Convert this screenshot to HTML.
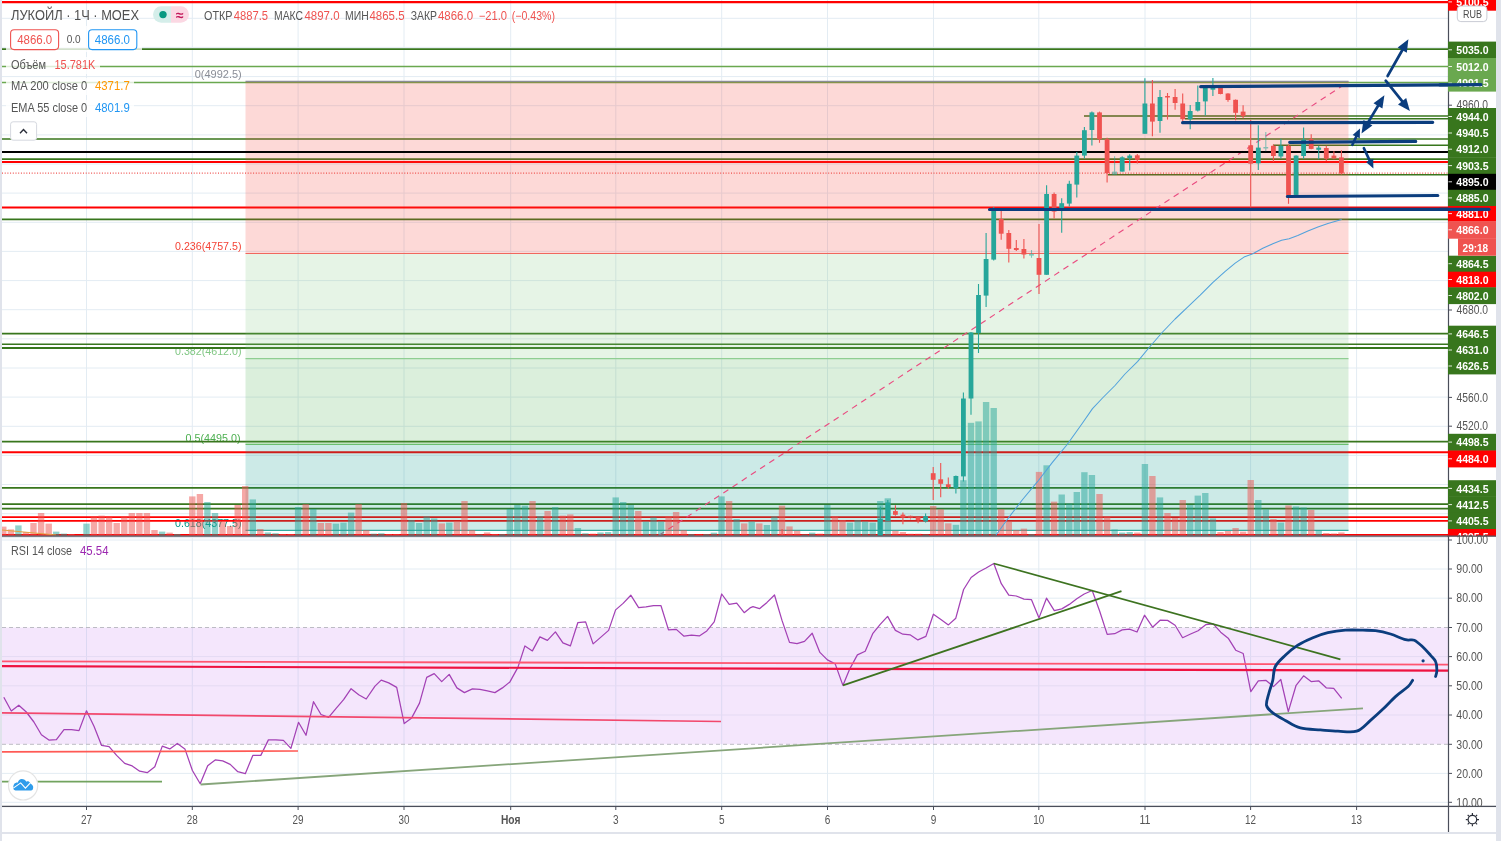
<!DOCTYPE html>
<html lang="ru"><head><meta charset="utf-8"><title>ЛУКОЙЛ · 1Ч · MOEX</title>
<style>html,body{margin:0;padding:0;background:#fff;overflow:hidden}body{width:1501px;height:841px;font-family:"Liberation Sans", Arial, sans-serif}</style>
</head><body>
<svg width="1501" height="841" viewBox="0 0 1501 841" font-family='"Liberation Sans", Arial, sans-serif' style="display:block">
<rect x="0.0" y="0.0" width="1501.0" height="841.0" fill="#ffffff" />
<line x1="86.5" y1="0.0" x2="86.5" y2="806.5" stroke="#e3ecf3" stroke-width="1" />
<line x1="192.3" y1="0.0" x2="192.3" y2="806.5" stroke="#e3ecf3" stroke-width="1" />
<line x1="298.1" y1="0.0" x2="298.1" y2="806.5" stroke="#e3ecf3" stroke-width="1" />
<line x1="404.0" y1="0.0" x2="404.0" y2="806.5" stroke="#e3ecf3" stroke-width="1" />
<line x1="510.7" y1="0.0" x2="510.7" y2="806.5" stroke="#e3ecf3" stroke-width="1" />
<line x1="615.8" y1="0.0" x2="615.8" y2="806.5" stroke="#e3ecf3" stroke-width="1" />
<line x1="721.7" y1="0.0" x2="721.7" y2="806.5" stroke="#e3ecf3" stroke-width="1" />
<line x1="827.5" y1="0.0" x2="827.5" y2="806.5" stroke="#e3ecf3" stroke-width="1" />
<line x1="933.5" y1="0.0" x2="933.5" y2="806.5" stroke="#e3ecf3" stroke-width="1" />
<line x1="1038.8" y1="0.0" x2="1038.8" y2="806.5" stroke="#e3ecf3" stroke-width="1" />
<line x1="1145.0" y1="0.0" x2="1145.0" y2="806.5" stroke="#e3ecf3" stroke-width="1" />
<line x1="1250.6" y1="0.0" x2="1250.6" y2="806.5" stroke="#e3ecf3" stroke-width="1" />
<line x1="1356.6" y1="0.0" x2="1356.6" y2="806.5" stroke="#e3ecf3" stroke-width="1" />
<line x1="2.0" y1="18.3" x2="1448.5" y2="18.3" stroke="#e3ecf3" stroke-width="1" />
<line x1="2.0" y1="47.4" x2="1448.5" y2="47.4" stroke="#e3ecf3" stroke-width="1" />
<line x1="2.0" y1="76.6" x2="1448.5" y2="76.6" stroke="#e3ecf3" stroke-width="1" />
<line x1="2.0" y1="105.7" x2="1448.5" y2="105.7" stroke="#e3ecf3" stroke-width="1" />
<line x1="2.0" y1="134.9" x2="1448.5" y2="134.9" stroke="#e3ecf3" stroke-width="1" />
<line x1="2.0" y1="164.0" x2="1448.5" y2="164.0" stroke="#e3ecf3" stroke-width="1" />
<line x1="2.0" y1="193.1" x2="1448.5" y2="193.1" stroke="#e3ecf3" stroke-width="1" />
<line x1="2.0" y1="222.3" x2="1448.5" y2="222.3" stroke="#e3ecf3" stroke-width="1" />
<line x1="2.0" y1="251.4" x2="1448.5" y2="251.4" stroke="#e3ecf3" stroke-width="1" />
<line x1="2.0" y1="280.6" x2="1448.5" y2="280.6" stroke="#e3ecf3" stroke-width="1" />
<line x1="2.0" y1="309.7" x2="1448.5" y2="309.7" stroke="#e3ecf3" stroke-width="1" />
<line x1="2.0" y1="338.8" x2="1448.5" y2="338.8" stroke="#e3ecf3" stroke-width="1" />
<line x1="2.0" y1="368.0" x2="1448.5" y2="368.0" stroke="#e3ecf3" stroke-width="1" />
<line x1="2.0" y1="397.1" x2="1448.5" y2="397.1" stroke="#e3ecf3" stroke-width="1" />
<line x1="2.0" y1="426.3" x2="1448.5" y2="426.3" stroke="#e3ecf3" stroke-width="1" />
<line x1="2.0" y1="455.4" x2="1448.5" y2="455.4" stroke="#e3ecf3" stroke-width="1" />
<line x1="2.0" y1="484.5" x2="1448.5" y2="484.5" stroke="#e3ecf3" stroke-width="1" />
<line x1="2.0" y1="513.7" x2="1448.5" y2="513.7" stroke="#e3ecf3" stroke-width="1" />
<line x1="2.0" y1="540.0" x2="1448.5" y2="540.0" stroke="#e3ecf3" stroke-width="1" />
<line x1="2.0" y1="569.0" x2="1448.5" y2="569.0" stroke="#e3ecf3" stroke-width="1" />
<line x1="2.0" y1="598.2" x2="1448.5" y2="598.2" stroke="#e3ecf3" stroke-width="1" />
<line x1="2.0" y1="656.6" x2="1448.5" y2="656.6" stroke="#e3ecf3" stroke-width="1" />
<line x1="2.0" y1="685.8" x2="1448.5" y2="685.8" stroke="#e3ecf3" stroke-width="1" />
<line x1="2.0" y1="715.0" x2="1448.5" y2="715.0" stroke="#e3ecf3" stroke-width="1" />
<line x1="2.0" y1="773.4" x2="1448.5" y2="773.4" stroke="#e3ecf3" stroke-width="1" />
<line x1="2.0" y1="802.3" x2="1448.5" y2="802.3" stroke="#e3ecf3" stroke-width="1" />
<rect x="2.0" y="627.5" width="1446.5" height="116.8" fill="#f4e6fc" />
<line x1="86.5" y1="627.5" x2="86.5" y2="744.3" stroke="#dcd8f2" stroke-width="1" />
<line x1="192.3" y1="627.5" x2="192.3" y2="744.3" stroke="#dcd8f2" stroke-width="1" />
<line x1="298.1" y1="627.5" x2="298.1" y2="744.3" stroke="#dcd8f2" stroke-width="1" />
<line x1="404.0" y1="627.5" x2="404.0" y2="744.3" stroke="#dcd8f2" stroke-width="1" />
<line x1="510.7" y1="627.5" x2="510.7" y2="744.3" stroke="#dcd8f2" stroke-width="1" />
<line x1="615.8" y1="627.5" x2="615.8" y2="744.3" stroke="#dcd8f2" stroke-width="1" />
<line x1="721.7" y1="627.5" x2="721.7" y2="744.3" stroke="#dcd8f2" stroke-width="1" />
<line x1="827.5" y1="627.5" x2="827.5" y2="744.3" stroke="#dcd8f2" stroke-width="1" />
<line x1="933.5" y1="627.5" x2="933.5" y2="744.3" stroke="#dcd8f2" stroke-width="1" />
<line x1="1038.8" y1="627.5" x2="1038.8" y2="744.3" stroke="#dcd8f2" stroke-width="1" />
<line x1="1145.0" y1="627.5" x2="1145.0" y2="744.3" stroke="#dcd8f2" stroke-width="1" />
<line x1="1250.6" y1="627.5" x2="1250.6" y2="744.3" stroke="#dcd8f2" stroke-width="1" />
<line x1="1356.6" y1="627.5" x2="1356.6" y2="744.3" stroke="#dcd8f2" stroke-width="1" />
<line x1="2.0" y1="656.6" x2="1448.5" y2="656.6" stroke="#e4daf3" stroke-width="1" />
<line x1="2.0" y1="685.8" x2="1448.5" y2="685.8" stroke="#e4daf3" stroke-width="1" />
<line x1="2.0" y1="715.0" x2="1448.5" y2="715.0" stroke="#e4daf3" stroke-width="1" />
<line x1="2.0" y1="627.5" x2="1448.5" y2="627.5" stroke="#bcbcc4" stroke-width="1" stroke-dasharray="4 3"/>
<line x1="2.0" y1="744.3" x2="1448.5" y2="744.3" stroke="#bcbcc4" stroke-width="1" stroke-dasharray="4 3"/>
<text x="241.7" y="77.7" font-size="11.8" fill="#8a8d96" font-weight="normal" text-anchor="end" textLength="47.0" lengthAdjust="spacingAndGlyphs" >0(4992.5)</text>
<text x="241.5" y="250.3" font-size="11.8" fill="#f44336" font-weight="normal" text-anchor="end" textLength="66.5" lengthAdjust="spacingAndGlyphs" >0.236(4757.5)</text>
<text x="241.5" y="354.7" font-size="11.8" fill="#81c784" font-weight="normal" text-anchor="end" textLength="66.5" lengthAdjust="spacingAndGlyphs" >0.382(4612.0)</text>
<text x="240.5" y="441.5" font-size="11.8" fill="#4caf50" font-weight="normal" text-anchor="end" textLength="55.0" lengthAdjust="spacingAndGlyphs" >0.5(4495.0)</text>
<text x="241.5" y="527.3" font-size="11.8" fill="#009688" font-weight="normal" text-anchor="end" textLength="66.5" lengthAdjust="spacingAndGlyphs" >0.618(4377.5)</text>
<line x1="2.0" y1="2.2" x2="1448.5" y2="2.2" stroke="#ff0000" stroke-width="2.2" />
<line x1="2.0" y1="49.2" x2="1448.5" y2="49.2" stroke="#38761d" stroke-width="1.7" />
<line x1="2.0" y1="66.5" x2="1448.5" y2="66.5" stroke="#6aa84f" stroke-width="1.5" />
<line x1="2.0" y1="82.6" x2="1448.5" y2="82.6" stroke="#6aa84f" stroke-width="1.5" />
<line x1="2.0" y1="139.0" x2="1448.5" y2="139.0" stroke="#38761d" stroke-width="1.6" />
<line x1="2.0" y1="159.1" x2="1448.5" y2="159.1" stroke="#38761d" stroke-width="1.6" />
<line x1="2.0" y1="161.9" x2="1448.5" y2="161.9" stroke="#ff0000" stroke-width="2" />
<line x1="2.0" y1="207.6" x2="1448.5" y2="207.6" stroke="#ff0000" stroke-width="2" />
<line x1="2.0" y1="219.3" x2="1448.5" y2="219.3" stroke="#38761d" stroke-width="1.7" />
<line x1="2.0" y1="333.7" x2="1448.5" y2="333.7" stroke="#38761d" stroke-width="1.7" />
<line x1="2.0" y1="344.3" x2="1448.5" y2="344.3" stroke="#38761d" stroke-width="1.5" />
<line x1="2.0" y1="348.0" x2="1448.5" y2="348.0" stroke="#38761d" stroke-width="1.9" />
<line x1="2.0" y1="441.6" x2="1448.5" y2="441.6" stroke="#38761d" stroke-width="1.7" />
<line x1="2.0" y1="452.3" x2="1448.5" y2="452.3" stroke="#ff0000" stroke-width="2" />
<line x1="2.0" y1="487.8" x2="1448.5" y2="487.8" stroke="#38761d" stroke-width="1.7" />
<line x1="2.0" y1="504.1" x2="1448.5" y2="504.1" stroke="#38761d" stroke-width="1.6" />
<line x1="2.0" y1="508.6" x2="1448.5" y2="508.6" stroke="#38761d" stroke-width="1.9" />
<line x1="2.0" y1="517.1" x2="1448.5" y2="517.1" stroke="#ff0000" stroke-width="1.8" />
<line x1="2.0" y1="520.9" x2="1448.5" y2="520.9" stroke="#ff0000" stroke-width="1.8" />
<line x1="2.0" y1="534.8" x2="1448.5" y2="534.8" stroke="#ff0000" stroke-width="1.7" />
<line x1="1084.0" y1="116.0" x2="1448.5" y2="116.0" stroke="#38761d" stroke-width="1.7" />
<line x1="1185.0" y1="118.7" x2="1448.5" y2="118.7" stroke="#38761d" stroke-width="1.5" />
<line x1="1273.0" y1="145.3" x2="1448.5" y2="145.3" stroke="#38761d" stroke-width="1.6" />
<line x1="1108.0" y1="174.7" x2="1448.5" y2="174.7" stroke="#38761d" stroke-width="1.6" />
<line x1="2.0" y1="173.1" x2="1448.5" y2="173.1" stroke="#ef5350" stroke-width="1.3" stroke-dasharray="1 1.7"/>
<rect x="245.5" y="81.6" width="1103.0" height="171.9" fill="#f44336" fill-opacity="0.2"/>
<rect x="245.5" y="253.5" width="1103.0" height="105.1" fill="#81c784" fill-opacity="0.2"/>
<rect x="245.5" y="358.6" width="1103.0" height="85.8" fill="#4caf50" fill-opacity="0.2"/>
<rect x="245.5" y="444.4" width="1103.0" height="86.0" fill="#009688" fill-opacity="0.2"/>
<line x1="245.5" y1="81.3" x2="1348.5" y2="81.3" stroke="#8a8d96" stroke-width="1.2" />
<line x1="245.5" y1="253.5" x2="1348.5" y2="253.5" stroke="#f0675e" stroke-width="1.2" />
<line x1="245.5" y1="358.6" x2="1348.5" y2="358.6" stroke="#8fce92" stroke-width="1.2" />
<line x1="245.5" y1="444.4" x2="1348.5" y2="444.4" stroke="#6abf6e" stroke-width="1.2" />
<line x1="245.5" y1="530.4" x2="1348.5" y2="530.4" stroke="#33aba0" stroke-width="1.2" />
<line x1="659.0" y1="535.3" x2="1348.5" y2="81.8" stroke="#ea4c80" stroke-width="1.15" stroke-dasharray="6 5"/>
<line x1="2.0" y1="152.0" x2="1448.5" y2="152.0" stroke="#000000" stroke-width="2" />
<g opacity="0.5">
<rect x="0.1" y="526.6" width="6.4" height="9.6" fill="#ef5350" />
<rect x="7.7" y="529.4" width="6.4" height="6.8" fill="#ef5350" />
<rect x="15.2" y="525.4" width="6.4" height="10.8" fill="#26a69a" />
<rect x="22.8" y="532.0" width="6.4" height="4.2" fill="#ef5350" />
<rect x="30.3" y="523.0" width="6.4" height="13.2" fill="#ef5350" />
<rect x="37.9" y="513.0" width="6.4" height="23.2" fill="#ef5350" />
<rect x="45.5" y="523.6" width="6.4" height="12.6" fill="#ef5350" />
<rect x="53.0" y="531.6" width="6.4" height="4.6" fill="#26a69a" />
<rect x="60.6" y="533.6" width="6.4" height="2.6" fill="#26a69a" />
<rect x="68.1" y="534.0" width="6.4" height="2.2" fill="#ef5350" />
<rect x="83.3" y="523.6" width="6.4" height="12.6" fill="#26a69a" />
<rect x="90.8" y="516.4" width="6.4" height="19.8" fill="#ef5350" />
<rect x="98.4" y="515.6" width="6.4" height="20.6" fill="#ef5350" />
<rect x="105.9" y="517.0" width="6.4" height="19.2" fill="#ef5350" />
<rect x="113.5" y="523.0" width="6.4" height="13.2" fill="#ef5350" />
<rect x="121.1" y="516.4" width="6.4" height="19.8" fill="#ef5350" />
<rect x="128.6" y="513.0" width="6.4" height="23.2" fill="#ef5350" />
<rect x="136.2" y="513.0" width="6.4" height="23.2" fill="#ef5350" />
<rect x="143.7" y="513.0" width="6.4" height="23.2" fill="#ef5350" />
<rect x="151.3" y="530.0" width="6.4" height="6.2" fill="#ef5350" />
<rect x="158.9" y="531.6" width="6.4" height="4.6" fill="#26a69a" />
<rect x="166.4" y="532.6" width="6.4" height="3.6" fill="#ef5350" />
<rect x="174.0" y="534.0" width="6.4" height="2.2" fill="#26a69a" />
<rect x="189.1" y="496.4" width="6.4" height="39.8" fill="#ef5350" />
<rect x="196.7" y="494.0" width="6.4" height="42.2" fill="#ef5350" />
<rect x="204.2" y="502.0" width="6.4" height="34.2" fill="#26a69a" />
<rect x="211.8" y="513.0" width="6.4" height="23.2" fill="#26a69a" />
<rect x="219.3" y="521.0" width="6.4" height="15.2" fill="#ef5350" />
<rect x="226.9" y="526.0" width="6.4" height="10.2" fill="#ef5350" />
<rect x="234.5" y="505.0" width="6.4" height="31.2" fill="#ef5350" />
<rect x="242.0" y="486.0" width="6.4" height="50.2" fill="#ef5350" />
<rect x="249.6" y="499.4" width="6.4" height="36.8" fill="#26a69a" />
<rect x="257.1" y="529.0" width="6.4" height="7.2" fill="#ef5350" />
<rect x="264.7" y="532.4" width="6.4" height="3.8" fill="#26a69a" />
<rect x="272.3" y="533.2" width="6.4" height="3.0" fill="#26a69a" />
<rect x="279.8" y="534.0" width="6.4" height="2.2" fill="#ef5350" />
<rect x="287.4" y="534.0" width="6.4" height="2.2" fill="#ef5350" />
<rect x="294.9" y="507.0" width="6.4" height="29.2" fill="#26a69a" />
<rect x="302.5" y="504.0" width="6.4" height="32.2" fill="#ef5350" />
<rect x="310.1" y="509.0" width="6.4" height="27.2" fill="#26a69a" />
<rect x="317.6" y="523.0" width="6.4" height="13.2" fill="#ef5350" />
<rect x="325.2" y="523.0" width="6.4" height="13.2" fill="#ef5350" />
<rect x="332.7" y="523.6" width="6.4" height="12.6" fill="#26a69a" />
<rect x="340.3" y="522.6" width="6.4" height="13.6" fill="#26a69a" />
<rect x="347.9" y="512.6" width="6.4" height="23.6" fill="#26a69a" />
<rect x="355.4" y="504.0" width="6.4" height="32.2" fill="#ef5350" />
<rect x="363.0" y="530.0" width="6.4" height="6.2" fill="#ef5350" />
<rect x="370.5" y="533.6" width="6.4" height="2.6" fill="#26a69a" />
<rect x="378.1" y="533.2" width="6.4" height="3.0" fill="#26a69a" />
<rect x="385.7" y="534.0" width="6.4" height="2.2" fill="#ef5350" />
<rect x="393.2" y="534.0" width="6.4" height="2.2" fill="#ef5350" />
<rect x="400.8" y="503.0" width="6.4" height="33.2" fill="#ef5350" />
<rect x="408.3" y="520.0" width="6.4" height="16.2" fill="#26a69a" />
<rect x="415.9" y="523.0" width="6.4" height="13.2" fill="#26a69a" />
<rect x="423.5" y="516.4" width="6.4" height="19.8" fill="#26a69a" />
<rect x="431.0" y="518.4" width="6.4" height="17.8" fill="#26a69a" />
<rect x="438.6" y="523.4" width="6.4" height="12.8" fill="#ef5350" />
<rect x="446.1" y="522.6" width="6.4" height="13.6" fill="#26a69a" />
<rect x="453.7" y="521.0" width="6.4" height="15.2" fill="#ef5350" />
<rect x="461.3" y="501.0" width="6.4" height="35.2" fill="#ef5350" />
<rect x="468.8" y="530.0" width="6.4" height="6.2" fill="#ef5350" />
<rect x="476.4" y="534.4" width="6.4" height="1.8" fill="#26a69a" />
<rect x="483.9" y="532.4" width="6.4" height="3.8" fill="#ef5350" />
<rect x="491.5" y="534.0" width="6.4" height="2.2" fill="#ef5350" />
<rect x="499.1" y="534.0" width="6.4" height="2.2" fill="#26a69a" />
<rect x="506.6" y="509.0" width="6.4" height="27.2" fill="#26a69a" />
<rect x="514.2" y="505.0" width="6.4" height="31.2" fill="#26a69a" />
<rect x="521.7" y="505.6" width="6.4" height="30.6" fill="#26a69a" />
<rect x="529.3" y="501.0" width="6.4" height="35.2" fill="#ef5350" />
<rect x="536.9" y="516.0" width="6.4" height="20.2" fill="#26a69a" />
<rect x="544.4" y="511.0" width="6.4" height="25.2" fill="#ef5350" />
<rect x="552.0" y="507.0" width="6.4" height="29.2" fill="#26a69a" />
<rect x="559.5" y="515.6" width="6.4" height="20.6" fill="#ef5350" />
<rect x="567.1" y="514.4" width="6.4" height="21.8" fill="#ef5350" />
<rect x="574.7" y="528.0" width="6.4" height="8.2" fill="#26a69a" />
<rect x="582.2" y="533.2" width="6.4" height="3.0" fill="#26a69a" />
<rect x="589.8" y="533.6" width="6.4" height="2.6" fill="#ef5350" />
<rect x="597.3" y="532.4" width="6.4" height="3.8" fill="#26a69a" />
<rect x="604.9" y="532.0" width="6.4" height="4.2" fill="#26a69a" />
<rect x="612.5" y="497.4" width="6.4" height="38.8" fill="#26a69a" />
<rect x="620.0" y="502.0" width="6.4" height="34.2" fill="#26a69a" />
<rect x="627.6" y="505.0" width="6.4" height="31.2" fill="#26a69a" />
<rect x="635.1" y="511.0" width="6.4" height="25.2" fill="#ef5350" />
<rect x="642.7" y="521.6" width="6.4" height="14.6" fill="#26a69a" />
<rect x="650.3" y="517.4" width="6.4" height="18.8" fill="#26a69a" />
<rect x="657.8" y="521.4" width="6.4" height="14.8" fill="#26a69a" />
<rect x="665.4" y="516.4" width="6.4" height="19.8" fill="#ef5350" />
<rect x="672.9" y="512.0" width="6.4" height="24.2" fill="#ef5350" />
<rect x="680.5" y="530.0" width="6.4" height="6.2" fill="#ef5350" />
<rect x="688.1" y="534.0" width="6.4" height="2.2" fill="#26a69a" />
<rect x="695.6" y="534.4" width="6.4" height="1.8" fill="#ef5350" />
<rect x="703.2" y="534.0" width="6.4" height="2.2" fill="#26a69a" />
<rect x="710.7" y="532.6" width="6.4" height="3.6" fill="#26a69a" />
<rect x="718.3" y="496.4" width="6.4" height="39.8" fill="#26a69a" />
<rect x="725.9" y="501.0" width="6.4" height="35.2" fill="#ef5350" />
<rect x="733.4" y="519.0" width="6.4" height="17.2" fill="#26a69a" />
<rect x="741.0" y="523.4" width="6.4" height="12.8" fill="#ef5350" />
<rect x="748.5" y="521.4" width="6.4" height="14.8" fill="#26a69a" />
<rect x="756.1" y="523.4" width="6.4" height="12.8" fill="#ef5350" />
<rect x="763.7" y="525.0" width="6.4" height="11.2" fill="#26a69a" />
<rect x="771.2" y="516.4" width="6.4" height="19.8" fill="#26a69a" />
<rect x="778.8" y="505.6" width="6.4" height="30.6" fill="#ef5350" />
<rect x="786.3" y="526.4" width="6.4" height="9.8" fill="#ef5350" />
<rect x="793.9" y="530.6" width="6.4" height="5.6" fill="#ef5350" />
<rect x="801.5" y="534.4" width="6.4" height="1.8" fill="#26a69a" />
<rect x="809.0" y="532.6" width="6.4" height="3.6" fill="#26a69a" />
<rect x="816.6" y="533.6" width="6.4" height="2.6" fill="#ef5350" />
<rect x="824.1" y="505.0" width="6.4" height="31.2" fill="#26a69a" />
<rect x="831.7" y="516.4" width="6.4" height="19.8" fill="#ef5350" />
<rect x="839.3" y="520.0" width="6.4" height="16.2" fill="#ef5350" />
<rect x="846.8" y="522.6" width="6.4" height="13.6" fill="#26a69a" />
<rect x="854.4" y="520.0" width="6.4" height="16.2" fill="#26a69a" />
<rect x="861.9" y="521.6" width="6.4" height="14.6" fill="#26a69a" />
<rect x="869.5" y="522.6" width="6.4" height="13.6" fill="#26a69a" />
<rect x="877.1" y="501.0" width="6.4" height="35.2" fill="#26a69a" />
<rect x="884.6" y="498.3" width="6.4" height="37.9" fill="#26a69a" />
<rect x="892.2" y="530.7" width="6.4" height="5.5" fill="#ef5350" />
<rect x="899.7" y="532.0" width="6.4" height="4.2" fill="#ef5350" />
<rect x="907.3" y="533.7" width="6.4" height="2.5" fill="#ef5350" />
<rect x="914.9" y="533.7" width="6.4" height="2.5" fill="#ef5350" />
<rect x="922.4" y="534.3" width="6.4" height="1.9" fill="#26a69a" />
<rect x="930.0" y="506.0" width="6.4" height="30.2" fill="#ef5350" />
<rect x="937.5" y="509.3" width="6.4" height="26.9" fill="#ef5350" />
<rect x="945.1" y="523.3" width="6.4" height="12.9" fill="#ef5350" />
<rect x="952.7" y="524.8" width="6.4" height="11.4" fill="#26a69a" />
<rect x="960.2" y="480.2" width="6.4" height="56.0" fill="#26a69a" />
<rect x="967.8" y="422.8" width="6.4" height="113.4" fill="#26a69a" />
<rect x="975.3" y="421.4" width="6.4" height="114.8" fill="#26a69a" />
<rect x="982.9" y="402.0" width="6.4" height="134.2" fill="#26a69a" />
<rect x="990.5" y="408.0" width="6.4" height="128.2" fill="#26a69a" />
<rect x="998.0" y="509.3" width="6.4" height="26.9" fill="#ef5350" />
<rect x="1005.6" y="521.8" width="6.4" height="14.4" fill="#ef5350" />
<rect x="1013.1" y="530.0" width="6.4" height="6.2" fill="#ef5350" />
<rect x="1020.7" y="528.6" width="6.4" height="7.6" fill="#ef5350" />
<rect x="1028.3" y="534.0" width="6.4" height="2.2" fill="#26a69a" />
<rect x="1035.8" y="471.9" width="6.4" height="64.3" fill="#ef5350" />
<rect x="1043.4" y="465.3" width="6.4" height="70.9" fill="#26a69a" />
<rect x="1050.9" y="501.6" width="6.4" height="34.6" fill="#ef5350" />
<rect x="1058.5" y="494.5" width="6.4" height="41.7" fill="#26a69a" />
<rect x="1066.1" y="503.4" width="6.4" height="32.8" fill="#26a69a" />
<rect x="1073.6" y="492.0" width="6.4" height="44.2" fill="#26a69a" />
<rect x="1081.2" y="472.2" width="6.4" height="64.0" fill="#26a69a" />
<rect x="1088.7" y="475.0" width="6.4" height="61.2" fill="#26a69a" />
<rect x="1096.3" y="494.0" width="6.4" height="42.2" fill="#ef5350" />
<rect x="1103.9" y="516.6" width="6.4" height="19.6" fill="#ef5350" />
<rect x="1111.4" y="529.4" width="6.4" height="6.8" fill="#26a69a" />
<rect x="1119.0" y="532.5" width="6.4" height="3.7" fill="#26a69a" />
<rect x="1126.5" y="532.0" width="6.4" height="4.2" fill="#26a69a" />
<rect x="1134.1" y="532.5" width="6.4" height="3.7" fill="#ef5350" />
<rect x="1141.7" y="464.0" width="6.4" height="72.2" fill="#26a69a" />
<rect x="1149.2" y="476.0" width="6.4" height="60.2" fill="#ef5350" />
<rect x="1156.8" y="497.4" width="6.4" height="38.8" fill="#26a69a" />
<rect x="1164.3" y="513.0" width="6.4" height="23.2" fill="#ef5350" />
<rect x="1171.9" y="518.0" width="6.4" height="18.2" fill="#ef5350" />
<rect x="1179.5" y="500.0" width="6.4" height="36.2" fill="#ef5350" />
<rect x="1187.0" y="505.0" width="6.4" height="31.2" fill="#26a69a" />
<rect x="1194.6" y="495.6" width="6.4" height="40.6" fill="#26a69a" />
<rect x="1202.1" y="493.0" width="6.4" height="43.2" fill="#26a69a" />
<rect x="1209.7" y="518.4" width="6.4" height="17.8" fill="#26a69a" />
<rect x="1217.3" y="532.0" width="6.4" height="4.2" fill="#ef5350" />
<rect x="1224.8" y="531.0" width="6.4" height="5.2" fill="#ef5350" />
<rect x="1232.4" y="528.0" width="6.4" height="8.2" fill="#ef5350" />
<rect x="1239.9" y="531.6" width="6.4" height="4.6" fill="#ef5350" />
<rect x="1247.5" y="480.0" width="6.4" height="56.2" fill="#ef5350" />
<rect x="1255.1" y="500.0" width="6.4" height="36.2" fill="#26a69a" />
<rect x="1262.6" y="509.4" width="6.4" height="26.8" fill="#26a69a" />
<rect x="1270.2" y="519.0" width="6.4" height="17.2" fill="#ef5350" />
<rect x="1277.7" y="522.6" width="6.4" height="13.6" fill="#26a69a" />
<rect x="1285.3" y="505.4" width="6.4" height="30.8" fill="#ef5350" />
<rect x="1292.9" y="506.4" width="6.4" height="29.8" fill="#26a69a" />
<rect x="1300.4" y="507.4" width="6.4" height="28.8" fill="#26a69a" />
<rect x="1308.0" y="510.0" width="6.4" height="26.2" fill="#ef5350" />
<rect x="1315.5" y="530.0" width="6.4" height="6.2" fill="#26a69a" />
<rect x="1323.1" y="533.0" width="6.4" height="3.2" fill="#ef5350" />
<rect x="1330.7" y="533.4" width="6.4" height="2.8" fill="#ef5350" />
<rect x="1338.2" y="532.4" width="6.4" height="3.8" fill="#ef5350" />
</g>
<g>
<line x1="880.3" y1="506.6" x2="880.3" y2="535.6" stroke="#26a69a" stroke-width="1.1" />
<rect x="877.9" y="518.9" width="4.8" height="16.7" fill="#26a69a" />
</g>
<g>
<line x1="887.8" y1="500.0" x2="887.8" y2="520.7" stroke="#26a69a" stroke-width="1.1" />
<rect x="885.4" y="502.5" width="4.8" height="18.2" fill="#26a69a" />
</g>
<g>
<line x1="895.4" y1="505.2" x2="895.4" y2="515.7" stroke="#ef5350" stroke-width="1.1" />
<rect x="893.0" y="511.1" width="4.8" height="3.7" fill="#ef5350" />
</g>
<g>
<line x1="902.9" y1="512.6" x2="902.9" y2="524.2" stroke="#ef5350" stroke-width="1.1" />
<rect x="900.5" y="514.6" width="4.8" height="2.9" fill="#ef5350" />
</g>
<g opacity="0.55">
<line x1="910.5" y1="515.2" x2="910.5" y2="519.7" stroke="#ef5350" stroke-width="1.1" />
<rect x="908.1" y="515.7" width="4.8" height="2.2" fill="#ef5350" />
</g>
<g>
<line x1="918.1" y1="517.0" x2="918.1" y2="523.2" stroke="#ef5350" stroke-width="1.1" />
<rect x="915.7" y="517.2" width="4.8" height="3.0" fill="#ef5350" />
</g>
<g>
<line x1="925.6" y1="513.4" x2="925.6" y2="522.5" stroke="#26a69a" stroke-width="1.1" />
<rect x="923.2" y="516.2" width="4.8" height="5.3" fill="#26a69a" />
</g>
<g>
<line x1="933.2" y1="466.9" x2="933.2" y2="500.0" stroke="#ef5350" stroke-width="1.1" />
<rect x="930.8" y="473.2" width="4.8" height="6.6" fill="#ef5350" />
</g>
<g>
<line x1="940.7" y1="463.1" x2="940.7" y2="497.3" stroke="#ef5350" stroke-width="1.1" />
<rect x="938.3" y="479.3" width="4.8" height="4.5" fill="#ef5350" />
</g>
<g>
<line x1="948.3" y1="477.4" x2="948.3" y2="488.9" stroke="#ef5350" stroke-width="1.1" />
<rect x="945.9" y="484.3" width="4.8" height="2.8" fill="#ef5350" />
</g>
<g>
<line x1="955.9" y1="475.5" x2="955.9" y2="493.6" stroke="#26a69a" stroke-width="1.1" />
<rect x="953.5" y="476.0" width="4.8" height="12.2" fill="#26a69a" />
</g>
<g>
<line x1="963.4" y1="392.5" x2="963.4" y2="481.5" stroke="#26a69a" stroke-width="1.1" />
<rect x="961.0" y="398.5" width="4.8" height="77.9" fill="#26a69a" />
</g>
<g>
<line x1="971.0" y1="332.0" x2="971.0" y2="414.8" stroke="#26a69a" stroke-width="1.1" />
<rect x="968.6" y="332.5" width="4.8" height="66.0" fill="#26a69a" />
</g>
<g>
<line x1="978.5" y1="284.0" x2="978.5" y2="353.0" stroke="#26a69a" stroke-width="1.1" />
<rect x="976.1" y="295.0" width="4.8" height="38.0" fill="#26a69a" />
</g>
<g>
<line x1="986.1" y1="233.0" x2="986.1" y2="307.0" stroke="#26a69a" stroke-width="1.1" />
<rect x="983.7" y="259.0" width="4.8" height="36.6" fill="#26a69a" />
</g>
<g>
<line x1="993.7" y1="207.0" x2="993.7" y2="260.6" stroke="#26a69a" stroke-width="1.1" />
<rect x="991.3" y="209.7" width="4.8" height="49.9" fill="#26a69a" />
</g>
<g>
<line x1="1001.2" y1="209.7" x2="1001.2" y2="239.7" stroke="#ef5350" stroke-width="1.1" />
<rect x="998.8" y="219.0" width="4.8" height="14.7" fill="#ef5350" />
</g>
<g>
<line x1="1008.8" y1="230.0" x2="1008.8" y2="262.5" stroke="#ef5350" stroke-width="1.1" />
<rect x="1006.4" y="233.0" width="4.8" height="15.8" fill="#ef5350" />
</g>
<g>
<line x1="1016.3" y1="240.0" x2="1016.3" y2="251.0" stroke="#ef5350" stroke-width="1.1" />
<rect x="1013.9" y="248.0" width="4.8" height="2.0" fill="#ef5350" />
</g>
<g>
<line x1="1023.9" y1="239.0" x2="1023.9" y2="258.5" stroke="#ef5350" stroke-width="1.1" />
<rect x="1021.5" y="249.0" width="4.8" height="5.5" fill="#ef5350" />
</g>
<g opacity="0.55">
<line x1="1031.5" y1="250.0" x2="1031.5" y2="257.8" stroke="#26a69a" stroke-width="1.1" />
<rect x="1029.1" y="254.0" width="4.8" height="1.6" fill="#26a69a" />
</g>
<g>
<line x1="1039.0" y1="224.0" x2="1039.0" y2="294.0" stroke="#ef5350" stroke-width="1.1" />
<rect x="1036.6" y="258.0" width="4.8" height="16.8" fill="#ef5350" />
</g>
<g>
<line x1="1046.6" y1="185.3" x2="1046.6" y2="274.8" stroke="#26a69a" stroke-width="1.1" />
<rect x="1044.2" y="194.0" width="4.8" height="80.8" fill="#26a69a" />
</g>
<g>
<line x1="1054.1" y1="192.4" x2="1054.1" y2="218.6" stroke="#ef5350" stroke-width="1.1" />
<rect x="1051.7" y="194.0" width="4.8" height="17.6" fill="#ef5350" />
</g>
<g>
<line x1="1061.7" y1="198.3" x2="1061.7" y2="232.7" stroke="#26a69a" stroke-width="1.1" />
<rect x="1059.3" y="203.2" width="4.8" height="5.0" fill="#26a69a" />
</g>
<g>
<line x1="1069.3" y1="180.8" x2="1069.3" y2="206.6" stroke="#26a69a" stroke-width="1.1" />
<rect x="1066.9" y="183.8" width="4.8" height="19.8" fill="#26a69a" />
</g>
<g>
<line x1="1076.8" y1="152.0" x2="1076.8" y2="197.4" stroke="#26a69a" stroke-width="1.1" />
<rect x="1074.4" y="155.6" width="4.8" height="29.0" fill="#26a69a" />
</g>
<g>
<line x1="1084.4" y1="127.0" x2="1084.4" y2="158.4" stroke="#26a69a" stroke-width="1.1" />
<rect x="1082.0" y="130.2" width="4.8" height="25.4" fill="#26a69a" />
</g>
<g>
<line x1="1091.9" y1="111.4" x2="1091.9" y2="145.6" stroke="#26a69a" stroke-width="1.1" />
<rect x="1089.5" y="112.4" width="4.8" height="17.6" fill="#26a69a" />
</g>
<g>
<line x1="1099.5" y1="111.6" x2="1099.5" y2="142.8" stroke="#ef5350" stroke-width="1.1" />
<rect x="1097.1" y="112.4" width="4.8" height="26.8" fill="#ef5350" />
</g>
<g>
<line x1="1107.1" y1="137.8" x2="1107.1" y2="182.6" stroke="#ef5350" stroke-width="1.1" />
<rect x="1104.7" y="139.2" width="4.8" height="34.0" fill="#ef5350" />
</g>
<g opacity="0.55">
<line x1="1114.6" y1="156.3" x2="1114.6" y2="174.8" stroke="#26a69a" stroke-width="1.1" />
<rect x="1112.2" y="171.6" width="4.8" height="3.2" fill="#26a69a" />
</g>
<g>
<line x1="1122.2" y1="156.3" x2="1122.2" y2="171.6" stroke="#26a69a" stroke-width="1.1" />
<rect x="1119.8" y="157.3" width="4.8" height="14.3" fill="#26a69a" />
</g>
<g>
<line x1="1129.7" y1="154.2" x2="1129.7" y2="170.6" stroke="#26a69a" stroke-width="1.1" />
<rect x="1127.3" y="155.6" width="4.8" height="2.6" fill="#26a69a" />
</g>
<g>
<line x1="1137.3" y1="154.0" x2="1137.3" y2="163.4" stroke="#ef5350" stroke-width="1.1" />
<rect x="1134.9" y="155.3" width="4.8" height="4.6" fill="#ef5350" />
</g>
<g>
<line x1="1144.9" y1="78.3" x2="1144.9" y2="133.8" stroke="#26a69a" stroke-width="1.1" />
<rect x="1142.5" y="103.5" width="4.8" height="30.3" fill="#26a69a" />
</g>
<g>
<line x1="1152.4" y1="80.0" x2="1152.4" y2="136.3" stroke="#ef5350" stroke-width="1.1" />
<rect x="1150.0" y="103.5" width="4.8" height="18.1" fill="#ef5350" />
</g>
<g>
<line x1="1160.0" y1="90.0" x2="1160.0" y2="132.8" stroke="#26a69a" stroke-width="1.1" />
<rect x="1157.6" y="97.0" width="4.8" height="24.0" fill="#26a69a" />
</g>
<g>
<line x1="1167.5" y1="93.0" x2="1167.5" y2="119.6" stroke="#ef5350" stroke-width="1.1" />
<rect x="1165.1" y="96.0" width="4.8" height="1.5" fill="#ef5350" />
</g>
<g>
<line x1="1175.1" y1="89.0" x2="1175.1" y2="109.7" stroke="#ef5350" stroke-width="1.1" />
<rect x="1172.7" y="97.0" width="4.8" height="6.0" fill="#ef5350" />
</g>
<g>
<line x1="1182.7" y1="93.5" x2="1182.7" y2="121.4" stroke="#ef5350" stroke-width="1.1" />
<rect x="1180.3" y="103.5" width="4.8" height="15.7" fill="#ef5350" />
</g>
<g>
<line x1="1190.2" y1="105.0" x2="1190.2" y2="129.2" stroke="#26a69a" stroke-width="1.1" />
<rect x="1187.8" y="111.0" width="4.8" height="8.2" fill="#26a69a" />
</g>
<g>
<line x1="1197.8" y1="85.4" x2="1197.8" y2="111.4" stroke="#26a69a" stroke-width="1.1" />
<rect x="1195.4" y="102.0" width="4.8" height="8.6" fill="#26a69a" />
</g>
<g>
<line x1="1205.3" y1="86.4" x2="1205.3" y2="115.6" stroke="#26a69a" stroke-width="1.1" />
<rect x="1202.9" y="87.0" width="4.8" height="14.4" fill="#26a69a" />
</g>
<g>
<line x1="1212.9" y1="78.0" x2="1212.9" y2="96.0" stroke="#26a69a" stroke-width="1.1" />
<rect x="1210.5" y="88.0" width="4.8" height="1.7" fill="#26a69a" />
</g>
<g>
<line x1="1220.5" y1="87.5" x2="1220.5" y2="94.3" stroke="#ef5350" stroke-width="1.1" />
<rect x="1218.1" y="87.8" width="4.8" height="6.2" fill="#ef5350" />
</g>
<g>
<line x1="1228.0" y1="93.3" x2="1228.0" y2="101.8" stroke="#ef5350" stroke-width="1.1" />
<rect x="1225.6" y="93.5" width="4.8" height="6.5" fill="#ef5350" />
</g>
<g>
<line x1="1235.6" y1="99.6" x2="1235.6" y2="120.3" stroke="#ef5350" stroke-width="1.1" />
<rect x="1233.2" y="99.8" width="4.8" height="13.0" fill="#ef5350" />
</g>
<g>
<line x1="1243.1" y1="105.3" x2="1243.1" y2="118.2" stroke="#ef5350" stroke-width="1.1" />
<rect x="1240.7" y="111.6" width="4.8" height="4.4" fill="#ef5350" />
</g>
<g>
<line x1="1250.7" y1="120.0" x2="1250.7" y2="207.4" stroke="#ef5350" stroke-width="1.1" />
<rect x="1248.3" y="145.3" width="4.8" height="18.4" fill="#ef5350" />
</g>
<g>
<line x1="1258.3" y1="125.3" x2="1258.3" y2="170.0" stroke="#26a69a" stroke-width="1.1" />
<rect x="1255.9" y="147.6" width="4.8" height="15.7" fill="#26a69a" />
</g>
<g opacity="0.55">
<line x1="1265.8" y1="132.0" x2="1265.8" y2="151.2" stroke="#26a69a" stroke-width="1.1" />
<rect x="1263.4" y="147.0" width="4.8" height="1.5" fill="#26a69a" />
</g>
<g>
<line x1="1273.4" y1="144.6" x2="1273.4" y2="162.0" stroke="#ef5350" stroke-width="1.1" />
<rect x="1271.0" y="145.8" width="4.8" height="10.2" fill="#ef5350" />
</g>
<g>
<line x1="1280.9" y1="138.7" x2="1280.9" y2="158.7" stroke="#26a69a" stroke-width="1.1" />
<rect x="1278.5" y="145.8" width="4.8" height="10.7" fill="#26a69a" />
</g>
<g>
<line x1="1288.5" y1="144.6" x2="1288.5" y2="203.8" stroke="#ef5350" stroke-width="1.1" />
<rect x="1286.1" y="145.8" width="4.8" height="50.0" fill="#ef5350" />
</g>
<g>
<line x1="1296.1" y1="155.2" x2="1296.1" y2="195.2" stroke="#26a69a" stroke-width="1.1" />
<rect x="1293.7" y="155.6" width="4.8" height="39.3" fill="#26a69a" />
</g>
<g>
<line x1="1303.6" y1="127.6" x2="1303.6" y2="158.7" stroke="#26a69a" stroke-width="1.1" />
<rect x="1301.2" y="139.6" width="4.8" height="16.4" fill="#26a69a" />
</g>
<g>
<line x1="1311.2" y1="134.2" x2="1311.2" y2="149.2" stroke="#ef5350" stroke-width="1.1" />
<rect x="1308.8" y="139.2" width="4.8" height="9.7" fill="#ef5350" />
</g>
<g>
<line x1="1318.7" y1="145.8" x2="1318.7" y2="159.2" stroke="#26a69a" stroke-width="1.1" />
<rect x="1316.3" y="147.6" width="4.8" height="2.2" fill="#26a69a" />
</g>
<g>
<line x1="1326.3" y1="145.8" x2="1326.3" y2="161.0" stroke="#ef5350" stroke-width="1.1" />
<rect x="1323.9" y="148.0" width="4.8" height="10.7" fill="#ef5350" />
</g>
<g>
<line x1="1333.9" y1="151.2" x2="1333.9" y2="159.2" stroke="#ef5350" stroke-width="1.1" />
<rect x="1331.5" y="155.6" width="4.8" height="2.7" fill="#ef5350" />
</g>
<g>
<line x1="1341.4" y1="150.3" x2="1341.4" y2="174.4" stroke="#ef5350" stroke-width="1.1" />
<rect x="1339.0" y="157.4" width="4.8" height="16.1" fill="#ef5350" />
</g>
<line x1="782.1" y1="529.0" x2="782.1" y2="536.2" stroke="#ef5350" stroke-width="1.1" />
<line x1="2.0" y1="530.0" x2="56.0" y2="535.0" stroke="#e0a040" stroke-width="1.1" />
<polyline fill="none" stroke="#52a2dc" stroke-width="1.05" stroke-linejoin="round" points="995.9,535.2 1007.8,518.8 1022.6,499.5 1037.5,481.7 1052.4,462.4 1067.2,444.5 1082.0,423.7 1092.5,408.6 1103.0,397.5 1115.0,385.5 1125.0,374.0 1137.5,361.6 1150.0,346.5 1162.6,332.0 1175.1,319.0 1187.6,307.2 1200.2,295.2 1212.7,282.6 1225.2,271.4 1235.2,263.1 1244.0,257.1 1252.8,253.8 1262.8,248.3 1272.8,243.8 1281.6,240.3 1289.1,238.8 1297.8,235.6 1307.9,231.0 1317.9,227.0 1327.9,223.5 1341.7,219.5"/>
<line x1="989.5" y1="209.5" x2="1489.0" y2="209.3" stroke="#0b3d7e" stroke-width="3.2" stroke-linecap="round"/>
<line x1="1287.4" y1="196.5" x2="1437.8" y2="195.5" stroke="#0b3d7e" stroke-width="3.2" stroke-linecap="round"/>
<line x1="1289.7" y1="142.3" x2="1415.7" y2="141.4" stroke="#0b3d7e" stroke-width="3.2" stroke-linecap="round"/>
<line x1="1182.6" y1="122.7" x2="1432.7" y2="122.3" stroke="#0b3d7e" stroke-width="3.2" stroke-linecap="round"/>
<line x1="1200.7" y1="86.7" x2="1481.0" y2="84.6" stroke="#0b3d7e" stroke-width="3.2" stroke-linecap="round"/>
<line x1="1387.6" y1="76.0" x2="1403.5" y2="48.0" stroke="#0b3d7e" stroke-width="2.7" stroke-linecap="round"/>
<polygon points="1408.4,39.3 1406.8,52.7 1397.7,47.6" fill="#0b3d7e"/>
<line x1="1385.7" y1="80.7" x2="1403.7" y2="103.2" stroke="#0b3d7e" stroke-width="2.7" stroke-linecap="round"/>
<polygon points="1409.9,111.0 1398.0,104.5 1406.2,98.0" fill="#0b3d7e"/>
<line x1="1366.6" y1="124.9" x2="1379.3" y2="103.8" stroke="#0b3d7e" stroke-width="2.7" stroke-linecap="round"/>
<polygon points="1384.4,95.2 1382.4,108.6 1373.5,103.3" fill="#0b3d7e"/>
<polygon points="1361.5,133.5 1363.5,120.1 1372.4,125.4" fill="#0b3d7e"/>
<line x1="1352.4" y1="144.8" x2="1357.0" y2="135.0" stroke="#0b3d7e" stroke-width="2.7" stroke-linecap="round"/>
<polygon points="1360.0,128.5 1359.8,138.3 1352.6,135.0" fill="#0b3d7e"/>
<line x1="1363.9" y1="148.2" x2="1370.4" y2="162.1" stroke="#0b3d7e" stroke-width="2.7" stroke-linecap="round"/>
<polygon points="1373.4,168.6 1366.0,162.1 1373.2,158.8" fill="#0b3d7e"/>
<polyline fill="none" stroke="#a341b5" stroke-width="1.25" stroke-linejoin="round" points="3.8,697.2 11.3,711.0 18.8,705.2 26.3,712.0 33.9,722.0 41.4,734.8 48.9,740.1 56.4,739.6 64.0,729.6 71.5,729.6 79.0,730.6 86.5,710.8 94.1,726.6 101.6,745.4 109.1,746.6 116.6,755.4 124.7,763.4 132.2,765.9 139.7,771.2 147.2,772.7 154.8,766.7 162.3,746.1 169.8,748.9 177.3,743.4 184.9,748.9 192.4,770.5 200.2,783.7 207.7,765.7 215.2,759.9 222.7,760.9 230.2,764.4 237.8,771.7 245.3,773.7 252.8,755.4 260.8,755.4 268.4,739.9 275.9,739.9 283.4,740.4 290.9,748.4 298.5,722.3 306.0,735.3 313.5,701.7 321.0,714.5 328.6,717.3 336.1,708.3 343.6,699.7 351.1,688.7 358.7,694.7 366.2,699.0 375.0,686.1 381.2,680.1 388.7,682.9 396.7,687.4 404.2,723.6 411.7,717.9 419.5,703.1 426.7,677.4 434.2,673.6 441.7,681.6 449.2,674.4 456.9,687.9 464.4,692.6 472.4,688.9 479.9,689.4 487.4,690.9 494.9,692.6 502.4,687.9 509.9,681.9 517.9,667.4 524.9,645.9 532.4,650.9 539.9,636.9 547.4,640.4 555.4,631.9 562.9,642.9 570.4,645.9 577.8,622.7 585.6,621.9 593.1,643.9 600.6,637.4 608.6,630.4 615.6,609.9 623.1,603.4 630.8,595.2 638.6,607.7 646.0,606.9 653.5,605.7 661.0,605.7 668.5,629.9 676.3,629.4 684.0,636.2 691.5,635.2 699.3,635.9 706.8,630.9 714.2,621.9 721.7,594.0 729.2,604.4 736.7,603.2 744.2,612.7 750.0,607.9 753.0,606.7 759.5,608.7 767.0,602.4 774.5,595.0 782.0,620.4 789.5,642.4 797.0,643.7 804.5,641.4 812.2,633.2 819.9,652.4 827.4,659.9 835.2,663.9 842.9,685.4 849.9,668.6 857.4,654.9 865.2,651.2 872.7,633.7 880.2,624.4 887.6,616.4 895.4,630.4 902.9,634.2 910.4,634.9 917.9,639.9 925.9,636.4 933.4,614.2 940.9,619.4 948.4,624.9 955.8,618.2 963.6,589.5 971.1,577.5 978.6,572.0 986.1,568.0 993.8,563.5 1001.3,583.7 1008.8,595.2 1016.3,596.0 1024.0,599.2 1031.5,599.7 1039.0,617.9 1046.5,598.2 1054.3,610.7 1061.8,608.9 1069.3,604.4 1076.8,598.7 1084.2,594.0 1092.2,590.5 1099.7,611.2 1107.2,634.4 1114.7,633.7 1122.2,629.9 1129.5,629.2 1137.0,632.0 1144.5,615.2 1152.6,627.2 1160.1,620.2 1167.6,620.4 1175.1,625.2 1182.6,637.7 1190.6,634.0 1198.1,630.7 1205.7,624.7 1213.2,623.9 1220.7,632.2 1228.2,638.2 1235.7,650.2 1243.2,653.5 1250.8,691.6 1258.3,680.8 1265.8,680.3 1273.5,686.6 1280.8,679.5 1288.3,711.6 1296.1,685.3 1303.6,675.8 1311.1,681.6 1318.6,680.8 1326.2,687.8 1333.7,688.3 1341.7,698.3"/>
<line x1="2.0" y1="661.4" x2="1448.5" y2="664.6" stroke="#ff5570" stroke-width="1.8" />
<line x1="2.0" y1="666.2" x2="1448.5" y2="670.7" stroke="#ee1240" stroke-width="2.2" />
<line x1="2.0" y1="712.8" x2="721.0" y2="721.5" stroke="#f2486c" stroke-width="1.7" />
<line x1="2.0" y1="751.9" x2="298.0" y2="751.0" stroke="#ff5a55" stroke-width="1.7" />
<line x1="2.0" y1="781.7" x2="162.0" y2="781.7" stroke="#72a35f" stroke-width="1.7" />
<line x1="200.6" y1="784.5" x2="1363.0" y2="708.3" stroke="#86a57a" stroke-width="1.8" />
<line x1="843.0" y1="685.4" x2="1121.5" y2="591.2" stroke="#3d7320" stroke-width="1.8" />
<line x1="993.8" y1="563.5" x2="1340.4" y2="659.3" stroke="#3d7320" stroke-width="1.8" />
<path d="M1412.6,680.3 C1411.8,681.3 1410.9,683.8 1408.1,686.6 C1405.2,689.3 1399.7,692.8 1395.5,696.6 C1391.4,700.3 1387.2,705.1 1383.0,709.1 C1378.8,713.1 1374.9,716.7 1370.5,720.4 C1366.1,724.1 1362.1,729.4 1356.7,731.2 C1351.3,732.9 1344.0,731.4 1337.9,731.2 C1331.9,730.9 1326.7,730.4 1320.4,729.9 C1314.1,729.4 1306.2,729.5 1300.4,727.9 C1294.5,726.3 1289.9,722.9 1285.3,720.4 C1280.7,717.9 1275.9,715.4 1272.8,712.9 C1269.7,710.4 1267.2,708.7 1266.5,705.4 C1265.9,702.0 1268.0,697.0 1269.0,692.8 C1270.1,688.7 1271.8,684.7 1272.8,680.3 C1273.8,675.9 1273.2,670.7 1275.3,666.5 C1277.4,662.3 1281.6,658.8 1285.3,655.3 C1289.1,651.7 1293.3,648.2 1297.8,645.2 C1302.4,642.3 1307.9,639.8 1312.9,637.7 C1317.9,635.6 1322.5,634.0 1327.9,632.7 C1333.3,631.5 1339.6,630.6 1345.4,630.2 C1351.3,629.8 1358.0,630.1 1363.0,630.2 C1368.0,630.3 1370.9,630.1 1375.5,630.7 C1380.1,631.3 1385.5,632.5 1390.5,634.0 C1395.5,635.5 1401.6,638.7 1405.6,639.7 C1409.5,640.8 1411.4,639.0 1414.3,640.2 C1417.3,641.5 1420.4,644.7 1423.1,647.2 C1425.8,649.7 1428.5,652.9 1430.6,655.3 C1432.7,657.6 1434.6,659.0 1435.6,661.5 C1436.7,664.0 1436.9,667.8 1436.9,670.3 C1436.9,672.8 1435.8,675.5 1435.6,676.5" fill="none" stroke="#0b3d7e" stroke-width="2.8" stroke-linecap="round"/>
<circle cx="1423.1" cy="660.8" r="1.6" fill="#0b3d7e"/>
<line x1="2.0" y1="536.2" x2="1496.0" y2="536.2" stroke="#50535e" stroke-width="1.3" />
<line x1="2.0" y1="537.6" x2="1496.0" y2="537.6" stroke="#e6e9f0" stroke-width="1.2" />
<rect x="1448.5" y="0.0" width="47.5" height="806.5" fill="#ffffff" />
<line x1="1448.5" y1="0.0" x2="1448.5" y2="832.0" stroke="#4a4e5a" stroke-width="1.2" />
<line x1="0.0" y1="806.5" x2="1496.0" y2="806.5" stroke="#4a4e5a" stroke-width="1.3" />
<rect x="0.0" y="807.2" width="1496.0" height="24.8" fill="#ffffff" />
<line x1="1448.5" y1="806.5" x2="1448.5" y2="832.0" stroke="#4a4e5a" stroke-width="1.2" />
<line x1="1448.5" y1="105.2" x2="1452.0" y2="105.2" stroke="#4a4e5a" stroke-width="1" />
<text x="1456.5" y="109.4" font-size="12" fill="#555" font-weight="normal" text-anchor="start" textLength="31.5" lengthAdjust="spacingAndGlyphs" >4960.0</text>
<line x1="1448.5" y1="310.0" x2="1452.0" y2="310.0" stroke="#4a4e5a" stroke-width="1" />
<text x="1456.5" y="314.2" font-size="12" fill="#555" font-weight="normal" text-anchor="start" textLength="31.5" lengthAdjust="spacingAndGlyphs" >4680.0</text>
<line x1="1448.5" y1="397.4" x2="1452.0" y2="397.4" stroke="#4a4e5a" stroke-width="1" />
<text x="1456.5" y="401.6" font-size="12" fill="#555" font-weight="normal" text-anchor="start" textLength="31.5" lengthAdjust="spacingAndGlyphs" >4560.0</text>
<line x1="1448.5" y1="426.2" x2="1452.0" y2="426.2" stroke="#4a4e5a" stroke-width="1" />
<text x="1456.5" y="430.4" font-size="12" fill="#555" font-weight="normal" text-anchor="start" textLength="31.5" lengthAdjust="spacingAndGlyphs" >4520.0</text>
<rect x="1448.0" y="-6.5" width="48.0" height="17.2" fill="#ff0000" />
<line x1="1448.5" y1="1.9" x2="1452.0" y2="1.9" stroke="#ffffff" stroke-width="1" opacity="0.85"/>
<text x="1456.3" y="6.0" font-size="11.5" fill="#ffffff" font-weight="bold" text-anchor="start" textLength="32.2" lengthAdjust="spacingAndGlyphs" >5100.5</text>
<rect x="1448.0" y="41.6" width="48.0" height="16.8" fill="#38761d" />
<line x1="1448.5" y1="49.8" x2="1452.0" y2="49.8" stroke="#ffffff" stroke-width="1" opacity="0.85"/>
<text x="1456.3" y="53.9" font-size="11.5" fill="#ffffff" font-weight="bold" text-anchor="start" textLength="32.2" lengthAdjust="spacingAndGlyphs" >5035.0</text>
<rect x="1448.0" y="58.0" width="48.0" height="17.4" fill="#6aa84f" />
<line x1="1448.5" y1="66.5" x2="1452.0" y2="66.5" stroke="#ffffff" stroke-width="1" opacity="0.85"/>
<text x="1456.3" y="70.6" font-size="11.5" fill="#ffffff" font-weight="bold" text-anchor="start" textLength="32.2" lengthAdjust="spacingAndGlyphs" >5012.0</text>
<rect x="1448.0" y="75.0" width="48.0" height="16.6" fill="#6aa84f" />
<line x1="1448.5" y1="83.1" x2="1452.0" y2="83.1" stroke="#ffffff" stroke-width="1" opacity="0.85"/>
<text x="1456.3" y="87.2" font-size="11.5" fill="#ffffff" font-weight="bold" text-anchor="start" textLength="32.2" lengthAdjust="spacingAndGlyphs" >4991.5</text>
<rect x="1448.0" y="108.0" width="48.0" height="17.4" fill="#38761d" />
<line x1="1448.5" y1="116.5" x2="1452.0" y2="116.5" stroke="#ffffff" stroke-width="1" opacity="0.85"/>
<text x="1456.3" y="120.6" font-size="11.5" fill="#ffffff" font-weight="bold" text-anchor="start" textLength="32.2" lengthAdjust="spacingAndGlyphs" >4944.0</text>
<rect x="1448.0" y="125.0" width="48.0" height="16.4" fill="#38761d" />
<line x1="1448.5" y1="133.0" x2="1452.0" y2="133.0" stroke="#ffffff" stroke-width="1" opacity="0.85"/>
<text x="1456.3" y="137.1" font-size="11.5" fill="#ffffff" font-weight="bold" text-anchor="start" textLength="32.2" lengthAdjust="spacingAndGlyphs" >4940.5</text>
<rect x="1448.0" y="141.0" width="48.0" height="16.7" fill="#38761d" />
<line x1="1448.5" y1="149.2" x2="1452.0" y2="149.2" stroke="#ffffff" stroke-width="1" opacity="0.85"/>
<text x="1456.3" y="153.2" font-size="11.5" fill="#ffffff" font-weight="bold" text-anchor="start" textLength="32.2" lengthAdjust="spacingAndGlyphs" >4912.0</text>
<rect x="1448.0" y="157.3" width="48.0" height="16.9" fill="#38761d" />
<line x1="1448.5" y1="165.6" x2="1452.0" y2="165.6" stroke="#ffffff" stroke-width="1" opacity="0.85"/>
<text x="1456.3" y="169.7" font-size="11.5" fill="#ffffff" font-weight="bold" text-anchor="start" textLength="32.2" lengthAdjust="spacingAndGlyphs" >4903.5</text>
<rect x="1448.0" y="173.8" width="48.0" height="16.4" fill="#000000" />
<line x1="1448.5" y1="181.8" x2="1452.0" y2="181.8" stroke="#ffffff" stroke-width="1" opacity="0.85"/>
<text x="1456.3" y="185.9" font-size="11.5" fill="#ffffff" font-weight="bold" text-anchor="start" textLength="32.2" lengthAdjust="spacingAndGlyphs" >4895.0</text>
<rect x="1448.0" y="189.8" width="48.0" height="16.6" fill="#38761d" />
<line x1="1448.5" y1="197.9" x2="1452.0" y2="197.9" stroke="#ffffff" stroke-width="1" opacity="0.85"/>
<text x="1456.3" y="202.0" font-size="11.5" fill="#ffffff" font-weight="bold" text-anchor="start" textLength="32.2" lengthAdjust="spacingAndGlyphs" >4885.0</text>
<rect x="1448.0" y="206.0" width="48.0" height="15.6" fill="#ff0000" />
<line x1="1448.5" y1="213.6" x2="1452.0" y2="213.6" stroke="#ffffff" stroke-width="1" opacity="0.85"/>
<text x="1456.3" y="217.7" font-size="11.5" fill="#ffffff" font-weight="bold" text-anchor="start" textLength="32.2" lengthAdjust="spacingAndGlyphs" >4881.0</text>
<rect x="1448.0" y="221.2" width="48.0" height="17.5" fill="#ef5350" />
<line x1="1448.5" y1="229.8" x2="1452.0" y2="229.8" stroke="#ffffff" stroke-width="1" opacity="0.85"/>
<text x="1456.3" y="233.8" font-size="11.5" fill="#ffffff" font-weight="bold" text-anchor="start" textLength="32.2" lengthAdjust="spacingAndGlyphs" >4866.0</text>
<rect x="1448.0" y="255.7" width="48.0" height="16.4" fill="#38761d" />
<line x1="1448.5" y1="263.7" x2="1452.0" y2="263.7" stroke="#ffffff" stroke-width="1" opacity="0.85"/>
<text x="1456.3" y="267.8" font-size="11.5" fill="#ffffff" font-weight="bold" text-anchor="start" textLength="32.2" lengthAdjust="spacingAndGlyphs" >4864.5</text>
<rect x="1448.0" y="271.7" width="48.0" height="16.0" fill="#ff0000" />
<line x1="1448.5" y1="279.5" x2="1452.0" y2="279.5" stroke="#ffffff" stroke-width="1" opacity="0.85"/>
<text x="1456.3" y="283.6" font-size="11.5" fill="#ffffff" font-weight="bold" text-anchor="start" textLength="32.2" lengthAdjust="spacingAndGlyphs" >4818.0</text>
<rect x="1448.0" y="287.3" width="48.0" height="16.8" fill="#38761d" />
<line x1="1448.5" y1="295.5" x2="1452.0" y2="295.5" stroke="#ffffff" stroke-width="1" opacity="0.85"/>
<text x="1456.3" y="299.6" font-size="11.5" fill="#ffffff" font-weight="bold" text-anchor="start" textLength="32.2" lengthAdjust="spacingAndGlyphs" >4802.0</text>
<rect x="1448.0" y="325.7" width="48.0" height="16.7" fill="#38761d" />
<line x1="1448.5" y1="333.9" x2="1452.0" y2="333.9" stroke="#ffffff" stroke-width="1" opacity="0.85"/>
<text x="1456.3" y="338.0" font-size="11.5" fill="#ffffff" font-weight="bold" text-anchor="start" textLength="32.2" lengthAdjust="spacingAndGlyphs" >4646.5</text>
<rect x="1448.0" y="342.0" width="48.0" height="16.4" fill="#38761d" />
<line x1="1448.5" y1="350.0" x2="1452.0" y2="350.0" stroke="#ffffff" stroke-width="1" opacity="0.85"/>
<text x="1456.3" y="354.1" font-size="11.5" fill="#ffffff" font-weight="bold" text-anchor="start" textLength="32.2" lengthAdjust="spacingAndGlyphs" >4631.0</text>
<rect x="1448.0" y="358.0" width="48.0" height="16.4" fill="#38761d" />
<line x1="1448.5" y1="366.0" x2="1452.0" y2="366.0" stroke="#ffffff" stroke-width="1" opacity="0.85"/>
<text x="1456.3" y="370.1" font-size="11.5" fill="#ffffff" font-weight="bold" text-anchor="start" textLength="32.2" lengthAdjust="spacingAndGlyphs" >4626.5</text>
<rect x="1448.0" y="433.8" width="48.0" height="17.1" fill="#38761d" />
<line x1="1448.5" y1="442.1" x2="1452.0" y2="442.1" stroke="#ffffff" stroke-width="1" opacity="0.85"/>
<text x="1456.3" y="446.2" font-size="11.5" fill="#ffffff" font-weight="bold" text-anchor="start" textLength="32.2" lengthAdjust="spacingAndGlyphs" >4498.5</text>
<rect x="1448.0" y="450.5" width="48.0" height="16.9" fill="#ff0000" />
<line x1="1448.5" y1="458.8" x2="1452.0" y2="458.8" stroke="#ffffff" stroke-width="1" opacity="0.85"/>
<text x="1456.3" y="462.9" font-size="11.5" fill="#ffffff" font-weight="bold" text-anchor="start" textLength="32.2" lengthAdjust="spacingAndGlyphs" >4484.0</text>
<rect x="1448.0" y="480.2" width="48.0" height="16.7" fill="#38761d" />
<line x1="1448.5" y1="488.4" x2="1452.0" y2="488.4" stroke="#ffffff" stroke-width="1" opacity="0.85"/>
<text x="1456.3" y="492.5" font-size="11.5" fill="#ffffff" font-weight="bold" text-anchor="start" textLength="32.2" lengthAdjust="spacingAndGlyphs" >4434.5</text>
<rect x="1448.0" y="496.5" width="48.0" height="16.6" fill="#38761d" />
<line x1="1448.5" y1="504.6" x2="1452.0" y2="504.6" stroke="#ffffff" stroke-width="1" opacity="0.85"/>
<text x="1456.3" y="508.7" font-size="11.5" fill="#ffffff" font-weight="bold" text-anchor="start" textLength="32.2" lengthAdjust="spacingAndGlyphs" >4412.5</text>
<rect x="1448.0" y="512.7" width="48.0" height="16.7" fill="#38761d" />
<line x1="1448.5" y1="520.9" x2="1452.0" y2="520.9" stroke="#ffffff" stroke-width="1" opacity="0.85"/>
<text x="1456.3" y="525.0" font-size="11.5" fill="#ffffff" font-weight="bold" text-anchor="start" textLength="32.2" lengthAdjust="spacingAndGlyphs" >4405.5</text>
<rect x="1458.0" y="238.3" width="38.0" height="17.4" fill="#ef5350" />
<text x="1462.6" y="251.8" font-size="11.5" fill="#ffffff" font-weight="bold" text-anchor="start" textLength="25.6" lengthAdjust="spacingAndGlyphs" >29:18</text>
<clipPath id="cpb"><rect x="1447.5" y="529" width="48.5" height="7.2"/></clipPath>
<g clip-path="url(#cpb)">
<rect x="1448.0" y="529.0" width="48.0" height="16.0" fill="#ff0000" />
<text x="1456.3" y="541.4" font-size="11.5" fill="#ffffff" font-weight="bold" text-anchor="start" textLength="32.2" lengthAdjust="spacingAndGlyphs" >4395.5</text>
</g>
<line x1="1447.5" y1="536.2" x2="1496.0" y2="536.2" stroke="#50535e" stroke-width="1.3" />
<line x1="1440.0" y1="84.9" x2="1481.0" y2="84.6" stroke="#0b3d7e" stroke-width="3.2" stroke-linecap="round"/>
<line x1="1440.0" y1="209.3" x2="1489.0" y2="209.3" stroke="#0b3d7e" stroke-width="3.2" stroke-linecap="round"/>
<rect x="1457.3" y="6" width="29.6" height="15.6" rx="3.5" fill="#ffffff" stroke="#c9ccd4" stroke-width="1"/>
<text x="1472.6" y="18.0" font-size="11" fill="#4a4a4a" font-weight="normal" text-anchor="middle" textLength="19.0" lengthAdjust="spacingAndGlyphs" >RUB</text>
<line x1="1448.5" y1="540.0" x2="1452.0" y2="540.0" stroke="#4a4e5a" stroke-width="1" />
<text x="1456.3" y="544.2" font-size="12" fill="#555" font-weight="normal" text-anchor="start" textLength="31.8" lengthAdjust="spacingAndGlyphs" >100.00</text>
<line x1="1448.5" y1="569.0" x2="1452.0" y2="569.0" stroke="#4a4e5a" stroke-width="1" />
<text x="1456.3" y="573.2" font-size="12" fill="#555" font-weight="normal" text-anchor="start" textLength="26.4" lengthAdjust="spacingAndGlyphs" >90.00</text>
<line x1="1448.5" y1="598.2" x2="1452.0" y2="598.2" stroke="#4a4e5a" stroke-width="1" />
<text x="1456.3" y="602.4" font-size="12" fill="#555" font-weight="normal" text-anchor="start" textLength="26.4" lengthAdjust="spacingAndGlyphs" >80.00</text>
<line x1="1448.5" y1="627.5" x2="1452.0" y2="627.5" stroke="#4a4e5a" stroke-width="1" />
<text x="1456.3" y="631.7" font-size="12" fill="#555" font-weight="normal" text-anchor="start" textLength="26.4" lengthAdjust="spacingAndGlyphs" >70.00</text>
<line x1="1448.5" y1="656.6" x2="1452.0" y2="656.6" stroke="#4a4e5a" stroke-width="1" />
<text x="1456.3" y="660.8" font-size="12" fill="#555" font-weight="normal" text-anchor="start" textLength="26.4" lengthAdjust="spacingAndGlyphs" >60.00</text>
<line x1="1448.5" y1="685.8" x2="1452.0" y2="685.8" stroke="#4a4e5a" stroke-width="1" />
<text x="1456.3" y="690.0" font-size="12" fill="#555" font-weight="normal" text-anchor="start" textLength="26.4" lengthAdjust="spacingAndGlyphs" >50.00</text>
<line x1="1448.5" y1="715.0" x2="1452.0" y2="715.0" stroke="#4a4e5a" stroke-width="1" />
<text x="1456.3" y="719.2" font-size="12" fill="#555" font-weight="normal" text-anchor="start" textLength="26.4" lengthAdjust="spacingAndGlyphs" >40.00</text>
<line x1="1448.5" y1="744.3" x2="1452.0" y2="744.3" stroke="#4a4e5a" stroke-width="1" />
<text x="1456.3" y="748.5" font-size="12" fill="#555" font-weight="normal" text-anchor="start" textLength="26.4" lengthAdjust="spacingAndGlyphs" >30.00</text>
<line x1="1448.5" y1="773.4" x2="1452.0" y2="773.4" stroke="#4a4e5a" stroke-width="1" />
<text x="1456.3" y="777.6" font-size="12" fill="#555" font-weight="normal" text-anchor="start" textLength="26.4" lengthAdjust="spacingAndGlyphs" >20.00</text>
<line x1="1448.5" y1="802.3" x2="1452.0" y2="802.3" stroke="#4a4e5a" stroke-width="1" />
<text x="1456.3" y="806.5" font-size="12" fill="#555" font-weight="normal" text-anchor="start" textLength="26.4" lengthAdjust="spacingAndGlyphs" >10.00</text>
<line x1="86.5" y1="806.5" x2="86.5" y2="810.0" stroke="#4a4e5a" stroke-width="1" />
<text x="86.5" y="824.2" font-size="12" fill="#555" font-weight="normal" text-anchor="middle" textLength="11.0" lengthAdjust="spacingAndGlyphs" >27</text>
<line x1="192.3" y1="806.5" x2="192.3" y2="810.0" stroke="#4a4e5a" stroke-width="1" />
<text x="192.3" y="824.2" font-size="12" fill="#555" font-weight="normal" text-anchor="middle" textLength="11.0" lengthAdjust="spacingAndGlyphs" >28</text>
<line x1="298.1" y1="806.5" x2="298.1" y2="810.0" stroke="#4a4e5a" stroke-width="1" />
<text x="298.1" y="824.2" font-size="12" fill="#555" font-weight="normal" text-anchor="middle" textLength="11.0" lengthAdjust="spacingAndGlyphs" >29</text>
<line x1="404.0" y1="806.5" x2="404.0" y2="810.0" stroke="#4a4e5a" stroke-width="1" />
<text x="404.0" y="824.2" font-size="12" fill="#555" font-weight="normal" text-anchor="middle" textLength="11.0" lengthAdjust="spacingAndGlyphs" >30</text>
<line x1="510.7" y1="806.5" x2="510.7" y2="810.0" stroke="#4a4e5a" stroke-width="1" />
<text x="510.7" y="824.3" font-size="12" fill="#555" font-weight="bold" text-anchor="middle" textLength="19.5" lengthAdjust="spacingAndGlyphs" >Ноя</text>
<line x1="615.8" y1="806.5" x2="615.8" y2="810.0" stroke="#4a4e5a" stroke-width="1" />
<text x="615.8" y="824.2" font-size="12" fill="#555" font-weight="normal" text-anchor="middle" textLength="5.6" lengthAdjust="spacingAndGlyphs" >3</text>
<line x1="721.7" y1="806.5" x2="721.7" y2="810.0" stroke="#4a4e5a" stroke-width="1" />
<text x="721.7" y="824.2" font-size="12" fill="#555" font-weight="normal" text-anchor="middle" textLength="5.6" lengthAdjust="spacingAndGlyphs" >5</text>
<line x1="827.5" y1="806.5" x2="827.5" y2="810.0" stroke="#4a4e5a" stroke-width="1" />
<text x="827.5" y="824.2" font-size="12" fill="#555" font-weight="normal" text-anchor="middle" textLength="5.6" lengthAdjust="spacingAndGlyphs" >6</text>
<line x1="933.5" y1="806.5" x2="933.5" y2="810.0" stroke="#4a4e5a" stroke-width="1" />
<text x="933.5" y="824.2" font-size="12" fill="#555" font-weight="normal" text-anchor="middle" textLength="5.6" lengthAdjust="spacingAndGlyphs" >9</text>
<line x1="1038.8" y1="806.5" x2="1038.8" y2="810.0" stroke="#4a4e5a" stroke-width="1" />
<text x="1038.8" y="824.2" font-size="12" fill="#555" font-weight="normal" text-anchor="middle" textLength="11.0" lengthAdjust="spacingAndGlyphs" >10</text>
<line x1="1145.0" y1="806.5" x2="1145.0" y2="810.0" stroke="#4a4e5a" stroke-width="1" />
<text x="1145.0" y="824.2" font-size="12" fill="#555" font-weight="normal" text-anchor="middle" textLength="11.0" lengthAdjust="spacingAndGlyphs" >11</text>
<line x1="1250.6" y1="806.5" x2="1250.6" y2="810.0" stroke="#4a4e5a" stroke-width="1" />
<text x="1250.6" y="824.2" font-size="12" fill="#555" font-weight="normal" text-anchor="middle" textLength="11.0" lengthAdjust="spacingAndGlyphs" >12</text>
<line x1="1356.6" y1="806.5" x2="1356.6" y2="810.0" stroke="#4a4e5a" stroke-width="1" />
<text x="1356.6" y="824.2" font-size="12" fill="#555" font-weight="normal" text-anchor="middle" textLength="11.0" lengthAdjust="spacingAndGlyphs" >13</text>
<circle cx="1472.4" cy="819.6" r="4.3" fill="none" stroke="#2a2e39" stroke-width="1.2"/>
<line x1="1477.0" y1="819.6" x2="1479.0" y2="819.6" stroke="#2a2e39" stroke-width="1.2" />
<line x1="1475.7" y1="822.9" x2="1477.1" y2="824.3" stroke="#2a2e39" stroke-width="1.2" />
<line x1="1472.4" y1="824.2" x2="1472.4" y2="826.2" stroke="#2a2e39" stroke-width="1.2" />
<line x1="1469.1" y1="822.9" x2="1467.7" y2="824.3" stroke="#2a2e39" stroke-width="1.2" />
<line x1="1467.8" y1="819.6" x2="1465.8" y2="819.6" stroke="#2a2e39" stroke-width="1.2" />
<line x1="1469.1" y1="816.3" x2="1467.7" y2="814.9" stroke="#2a2e39" stroke-width="1.2" />
<line x1="1472.4" y1="815.0" x2="1472.4" y2="813.0" stroke="#2a2e39" stroke-width="1.2" />
<line x1="1475.7" y1="816.3" x2="1477.1" y2="814.9" stroke="#2a2e39" stroke-width="1.2" />
<rect x="0.0" y="0.0" width="2.0" height="841.0" fill="#e0e3eb" />
<rect x="1496.0" y="0.0" width="5.0" height="841.0" fill="#e0e3eb" />
<rect x="0.0" y="832.0" width="1496.0" height="2.0" fill="#e0e3eb" />
<rect x="6.0" y="26.0" width="136.0" height="26.0" fill="#ffffff" fill-opacity="0.78"/>
<rect x="6.0" y="57.0" width="94.0" height="17.0" fill="#ffffff" fill-opacity="0.78"/>
<rect x="6.0" y="78.0" width="128.0" height="17.0" fill="#ffffff" fill-opacity="0.78"/>
<rect x="6.0" y="100.0" width="128.0" height="17.0" fill="#ffffff" fill-opacity="0.78"/>
<text x="11.0" y="20.0" font-size="14" fill="#505050" font-weight="normal" text-anchor="start" textLength="128.0" lengthAdjust="spacingAndGlyphs" >ЛУКОЙЛ · 1Ч · MOEX</text>
<clipPath id="pill"><rect x="153" y="6.3" width="36" height="16.4" rx="8.2"/></clipPath>
<g clip-path="url(#pill)"><rect x="153" y="6" width="18" height="17" fill="#d5eeea"/><rect x="171" y="6" width="18" height="17" fill="#fbd8e3"/></g>
<circle cx="163" cy="14.6" r="3.7" fill="#089981"/>
<text x="179.8" y="19.6" font-size="14" fill="#c2185b" font-weight="bold" text-anchor="middle" >≈</text>
<text x="204.0" y="20.0" font-size="12" fill="#555" font-weight="normal" text-anchor="start" textLength="28.5" lengthAdjust="spacingAndGlyphs" >ОТКР</text>
<text x="233.7" y="20.0" font-size="12" fill="#ef5350" font-weight="normal" text-anchor="start" textLength="34.3" lengthAdjust="spacingAndGlyphs" >4887.5</text>
<text x="274.0" y="20.0" font-size="12" fill="#555" font-weight="normal" text-anchor="start" textLength="29.0" lengthAdjust="spacingAndGlyphs" >МАКС</text>
<text x="304.5" y="20.0" font-size="12" fill="#ef5350" font-weight="normal" text-anchor="start" textLength="35.0" lengthAdjust="spacingAndGlyphs" >4897.0</text>
<text x="345.0" y="20.0" font-size="12" fill="#555" font-weight="normal" text-anchor="start" textLength="23.7" lengthAdjust="spacingAndGlyphs" >МИН</text>
<text x="369.5" y="20.0" font-size="12" fill="#ef5350" font-weight="normal" text-anchor="start" textLength="35.0" lengthAdjust="spacingAndGlyphs" >4865.5</text>
<text x="410.7" y="20.0" font-size="12" fill="#555" font-weight="normal" text-anchor="start" textLength="26.3" lengthAdjust="spacingAndGlyphs" >ЗАКР</text>
<text x="438.0" y="20.0" font-size="12" fill="#ef5350" font-weight="normal" text-anchor="start" textLength="35.0" lengthAdjust="spacingAndGlyphs" >4866.0</text>
<text x="478.7" y="20.0" font-size="12" fill="#ef5350" font-weight="normal" text-anchor="start" textLength="28.3" lengthAdjust="spacingAndGlyphs" >−21.0</text>
<text x="511.7" y="20.0" font-size="12" fill="#ef5350" font-weight="normal" text-anchor="start" textLength="43.3" lengthAdjust="spacingAndGlyphs" >(−0.43%)</text>
<rect x="10.6" y="29.8" width="48" height="19.8" rx="3.5" fill="#ffffff" stroke="#ef5350" stroke-width="1.1"/>
<text x="17.2" y="43.7" font-size="12" fill="#ef5350" font-weight="normal" text-anchor="start" textLength="35.0" lengthAdjust="spacingAndGlyphs" >4866.0</text>
<text x="66.7" y="43.4" font-size="10.5" fill="#555" font-weight="normal" text-anchor="start" textLength="14.0" lengthAdjust="spacingAndGlyphs" >0.0</text>
<rect x="88.6" y="29.8" width="48.2" height="19.8" rx="3.5" fill="#ffffff" stroke="#2196f3" stroke-width="1.1"/>
<text x="94.8" y="43.7" font-size="12" fill="#2196f3" font-weight="normal" text-anchor="start" textLength="35.2" lengthAdjust="spacingAndGlyphs" >4866.0</text>
<text x="11.0" y="68.6" font-size="12" fill="#555" font-weight="normal" text-anchor="start" textLength="35.0" lengthAdjust="spacingAndGlyphs" >Объём</text>
<text x="54.5" y="68.6" font-size="12" fill="#ef5350" font-weight="normal" text-anchor="start" textLength="40.8" lengthAdjust="spacingAndGlyphs" >15.781K</text>
<text x="11.0" y="90.0" font-size="12" fill="#555" font-weight="normal" text-anchor="start" textLength="76.2" lengthAdjust="spacingAndGlyphs" >MA 200 close 0</text>
<text x="95.0" y="90.0" font-size="12" fill="#ff9800" font-weight="normal" text-anchor="start" textLength="34.7" lengthAdjust="spacingAndGlyphs" >4371.7</text>
<text x="11.0" y="111.7" font-size="12" fill="#555" font-weight="normal" text-anchor="start" textLength="76.2" lengthAdjust="spacingAndGlyphs" >EMA 55 close 0</text>
<text x="95.0" y="111.7" font-size="12" fill="#2196f3" font-weight="normal" text-anchor="start" textLength="34.7" lengthAdjust="spacingAndGlyphs" >4801.9</text>
<rect x="10.6" y="121.8" width="26" height="18.4" rx="2.5" fill="#ffffff" stroke="#d5d8df" stroke-width="1"/>
<polyline points="20,133.2 23.5,129.6 27,133.2" fill="none" stroke="#2a2e39" stroke-width="1.4"/>
<text x="11.0" y="555.0" font-size="12" fill="#555" font-weight="normal" text-anchor="start" textLength="61.0" lengthAdjust="spacingAndGlyphs" >RSI 14 close</text>
<text x="80.0" y="555.0" font-size="12" fill="#9c27b0" font-weight="normal" text-anchor="start" textLength="28.5" lengthAdjust="spacingAndGlyphs" >45.54</text>
<circle cx="23.1" cy="785.4" r="14.6" fill="#ffffff" stroke="#e4e4e4" stroke-width="1.2"/>
<path d="M15.5,790.6 C13.6,790.6 12.9,788.3 13.3,786.6 C13.5,784.6 14.6,783.3 15.6,783.1 C16.3,782.6 17.2,782.5 17.7,782.7 C18.3,780.4 19.8,778.9 21.7,778.9 C23.9,778.9 25.6,780.0 26.5,781.7 C27.3,781.2 28.3,781.2 29.0,781.7 C30.0,782.2 30.7,783 30.9,783.9 C32.4,784.6 33.2,785.8 33.2,787.3 C33.2,789.3 32.4,790.6 31.0,790.6 Z" fill="#2f9ceb"/>
<polyline points="13.3,788.1 20.7,782.9 25.4,788.1 30.8,782.4" fill="none" stroke="#ffffff" stroke-width="1.1"/>
</svg>
</body></html>
